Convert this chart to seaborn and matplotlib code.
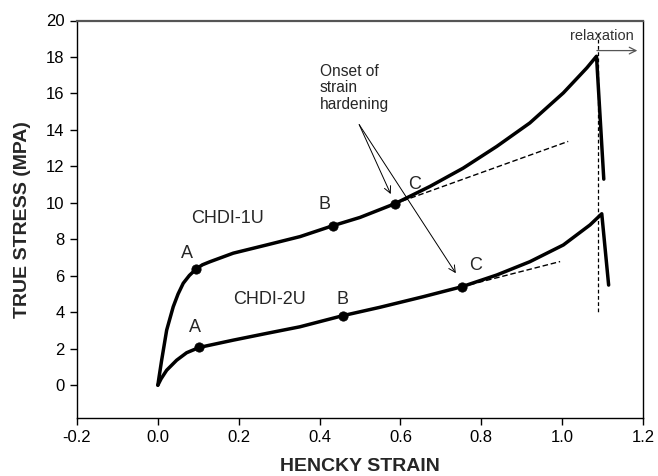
import matplotlib
matplotlib.use("Agg")
import matplotlib.pyplot as plt
import seaborn as sns
import pandas as pd

# Data
strain_1u = [0.0, 0.003, 0.0094, 0.0218, 0.038, 0.050, 0.0628, 0.078, 0.0942, 0.110, 0.1289, 0.1865,
             0.269, 0.352, 0.432, 0.50, 0.586, 0.673, 0.755, 0.838, 0.920, 1.003, 1.061, 1.085, 1.103]
stress_1u = [0.0, 0.45, 1.37, 3.02, 4.30, 5.00, 5.59, 6.02, 6.36, 6.60, 6.77, 7.24,
             7.69, 8.15, 8.74, 9.20, 9.95, 10.90, 11.90, 13.09, 14.38, 16.03, 17.40, 18.04, 11.30]
strain_2u = [0.0, 0.008, 0.0218, 0.0465, 0.0712, 0.1024, 0.1865, 0.269, 0.351, 0.457, 0.549, 0.656,
             0.752, 0.838, 0.920, 1.003, 1.069, 1.098, 1.115]
stress_2u = [0.0, 0.35, 0.82, 1.37, 1.78, 2.07, 2.47, 2.84, 3.20, 3.81, 4.27, 4.85,
             5.40, 6.04, 6.77, 7.69, 8.79, 9.40, 5.49]

pts_1u_x = [0.094, 0.432, 0.586]
pts_1u_y = [6.36, 8.74, 9.95]
pts_2u_x = [0.102, 0.457, 0.752]
pts_2u_y = [2.07, 3.81, 5.40]
point_labels = ["A", "B", "C"]

tan_1u_x = [0.586, 1.015]
tan_1u_y = [9.95, 13.37]
tan_2u_x = [0.752, 0.995]
tan_2u_y = [5.40, 6.78]

x_ticks = [-0.2, 0.0, 0.2, 0.4, 0.6, 0.8, 1.0, 1.2]
y_ticks = [0, 2, 4, 6, 8, 10, 12, 14, 16, 18, 20]

sns.set_theme(style="ticks")
plt.rcParams['font.family'] = ['Liberation Sans', 'DejaVu Sans']

fig = plt.figure(figsize=(6.58, 4.76), dpi=100)
ax = fig.add_axes([77 / 658, 58 / 476, 566 / 658, 397.5 / 476])

df1 = pd.DataFrame({"x": strain_1u, "y": stress_1u})
df2 = pd.DataFrame({"x": strain_2u, "y": stress_2u})
sns.lineplot(data=df1, x="x", y="y", sort=False, color="black", lw=2.5, ax=ax)
sns.lineplot(data=df2, x="x", y="y", sort=False, color="black", lw=2.5, ax=ax)

ax.plot(tan_1u_x, tan_1u_y, ls=(0, (4, 2)), color="black", lw=1.0)
ax.plot(tan_2u_x, tan_2u_y, ls=(0, (4, 2)), color="black", lw=1.0)
ax.plot([1.088, 1.088], [19.3, 3.9], ls=(0, (3, 2)), color="black", lw=0.9)

sns.scatterplot(x=pts_1u_x, y=pts_1u_y, color="black", s=45, edgecolor="black", zorder=5, ax=ax)
sns.scatterplot(x=pts_2u_x, y=pts_2u_y, color="black", s=45, edgecolor="black", zorder=5, ax=ax)

fs = 13
lab1_pos = [(0.073, 7.23), (0.411, 9.89), (0.634, 10.99)]
lab2_pos = [(0.092, 3.17), (0.457, 4.71), (0.785, 6.59)]
for lbl, (x, y) in zip(point_labels, lab1_pos):
    ax.text(x, y, lbl, ha="center", va="center", fontsize=fs)
for lbl, (x, y) in zip(point_labels, lab2_pos):
    ax.text(x, y, lbl, ha="center", va="center", fontsize=fs)

ax.text(0.172, 9.16, "CHDI-1U", ha="center", va="center", fontsize=fs)
ax.text(0.275, 4.71, "CHDI-2U", ha="center", va="center", fontsize=fs)

ax.text(0.400, 17.6, "Onset of\nstrain\nhardening", ha="left", va="top", fontsize=11.2,
        linespacing=1.1)
arrowprops = dict(arrowstyle="->", color="black", lw=0.7, shrinkA=0, shrinkB=0)
ax.annotate("", xy=(0.576, 10.48), xytext=(0.498, 14.29), arrowprops=arrowprops)
ax.annotate("", xy=(0.737, 6.14), xytext=(0.498, 14.29), arrowprops=arrowprops)

ax.text(1.098, 19.15, "relaxation", ha="center", va="center", fontsize=10.5, color="#333333")
ax.annotate("", xy=(1.186, 18.35), xytext=(1.086, 18.35),
            arrowprops=dict(arrowstyle="->", color="#555555", lw=0.9, shrinkA=0, shrinkB=0))

ax.set_xlim(-0.2, 1.2)
ax.set_ylim(-1.8, 20)
ax.set_xticks(x_ticks)
ax.set_xticklabels([f"{t:.1f}" for t in x_ticks])
ax.set_yticks(y_ticks)
ax.tick_params(axis="both", labelsize=12, direction="out", length=5, width=1, color="black",
               labelcolor="black", top=False, right=False, pad=4)
ax.set_xlabel("HENCKY STRAIN", fontsize=14, fontweight="bold", labelpad=9)
ax.set_ylabel("TRUE STRESS (MPA)", fontsize=14, fontweight="bold", labelpad=11)

for s in ["left", "bottom", "right"]:
    ax.spines[s].set_color("black")
    ax.spines[s].set_linewidth(1.0)
ax.spines["top"].set_color("#555555")
ax.spines["top"].set_linewidth(1.6)

fig.savefig("out.png", dpi=100)
